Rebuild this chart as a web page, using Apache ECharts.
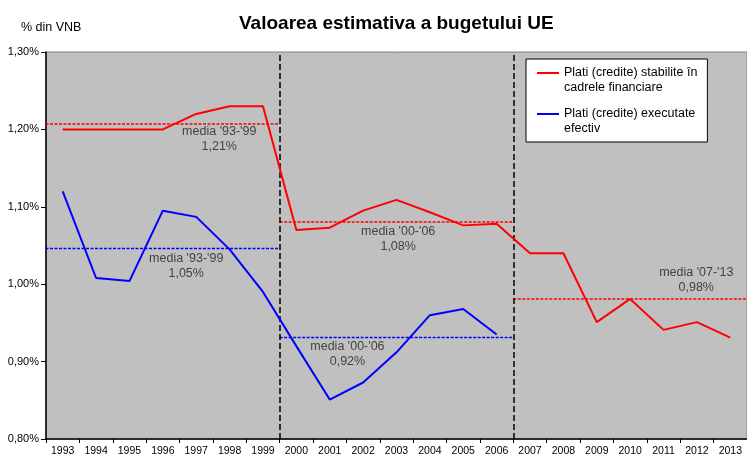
<!DOCTYPE html>
<html>
<head>
	<meta charset="utf-8" />
	<title>Valoarea estimativa a bugetului UE</title>
	<script type="text/javascript" src="https://cdn.jsdelivr.net/npm/echarts@6/dist/echarts.min.js"></script>
	<style>
		html, body {margin:0;padding:0;background:#fff;}
		#chart {width:747px;height:457px;}
	</style>
</head>
<body>
	<div id="chart"></div>

	<script>
		var years = ['1993','1994','1995','1996','1997','1998','1999','2000','2001','2002','2003','2004','2005','2006','2007','2008','2009','2010','2011','2012','2013'];

		// % din VNB
		var platiStabilite = [1.20, 1.20, 1.20, 1.20, 1.22, 1.23, 1.23, 1.07, 1.073, 1.095, 1.109, 1.093, 1.076, 1.078, 1.04, 1.04, 0.951, 0.981, 0.941, 0.951, 0.931];
		var platiExecutate = [1.12, 1.008, 1.004, 1.095, 1.087, 1.045, 0.99, 0.92, 0.851, 0.873, 0.912, 0.96, 0.968, 0.935];

		// medii pe perioade: [start, end] in pozitii de ani
		var perioade = [[0, 7], [7, 14], [14, 21]];
		var mediiStabilite = [1.207, 1.0805, 0.981];
		var mediiExecutate = [1.046, 0.931];
		var etichMediiStabilite = ["media '93-'99\n1,21%", "media '00-'06\n1,08%", "media '07-'13\n0,98%"];
		var etichMediiExecutate = ["media '93-'99\n1,05%", "media '00-'06\n0,92%"];

		var yTicks = [0.8, 0.9, 1.0, 1.1, 1.2, 1.3];

		var RED = '#ff0000', BLUE = '#0000ff';

		var chart = echarts.init(document.getElementById('chart'));

		function avgSeries(values, color) {
			return values.map(function(v, i) {
				var p = perioade[i];
				return {
					type: 'line',
					xAxisIndex: 1,
					symbol: 'none',
					silent: true,
					lineStyle: {color: color, width: 1.5, type: [3, 1.5]},
					data: [[p[0] === 0 ? -0.15 : p[0], v], [p[1], v]],
					z: 3
				};
			});
		}

		// pozitiile etichetelor (coordonate ale graficului)
		var posStabilite = [[5.19, 1.187], [10.55, 1.058], [19.48, 1.006]];
		var posExecutate = [[4.2, 1.024], [9.03, 0.9095]];

		function labelSeries(texts, pos) {
			return {
				type: 'scatter',
				xAxisIndex: 1,
				symbolSize: 0,
				silent: true,
				data: texts.map(function(t, i) { return {value: pos[i], name: t}; }),
				label: {
					show: true,
					position: 'inside',
					formatter: '{b}',
					color: '#222',
					fontSize: 12.5,
					lineHeight: 15,
					align: 'center',
					fontFamily: 'Liberation Sans'
				},
				z: 6
			};
		}

		var series = [
			{
				name: 'Plati (credite) stabilite în\ncadrele financiare',
				type: 'line',
				symbol: 'none',
				data: platiStabilite,
				lineStyle: {color: RED, width: 2},
				itemStyle: {color: RED},
				z: 5
			},
			{
				name: 'Plati (credite) executate\nefectiv',
				type: 'line',
				symbol: 'none',
				data: platiExecutate,
				lineStyle: {color: BLUE, width: 2},
				itemStyle: {color: BLUE},
				z: 5
			},
			{
				// separatoare de perioade
				type: 'line',
				xAxisIndex: 1,
				data: [],
				silent: true,
				markLine: {
					symbol: 'none',
					silent: true,
					label: {show: false},
					lineStyle: {color: '#000', width: 1.5, type: [6, 3]},
					data: [{xAxis: perioade[1][0]}, {xAxis: perioade[2][0]}]
				},
				z: 4
			}
		].concat(avgSeries(mediiStabilite, RED))
		 .concat(avgSeries(mediiExecutate, BLUE))
		 .concat([labelSeries(etichMediiStabilite, posStabilite), labelSeries(etichMediiExecutate, posExecutate)]);

		var option = {
			animation: false,
			textStyle: {fontFamily: 'Liberation Sans'},
			title: [
				{
					text: 'Valoarea estimativa a bugetului UE',
					left: 234,
					top: 9,
					textStyle: {fontSize: 19, fontWeight: 'bold', color: '#000', fontFamily: 'Liberation Sans'}
				},
				{
					text: '% din VNB',
					left: 16,
					top: 16,
					textStyle: {fontSize: 12.5, fontWeight: 'normal', color: '#000', fontFamily: 'Liberation Sans'}
				}
			],
			legend: {
				data: [series[0].name, series[1].name],
				orient: 'vertical',
				icon: 'rect',
				left: 526,
				top: 59,
				padding: [-8.5, 10, 5.5, 11],
				itemGap: -4,
				itemWidth: 22,
				itemHeight: 2,
				backgroundColor: '#fff',
				borderColor: '#000',
				borderWidth: 1,
				borderRadius: 0,
				selectedMode: false,
				// rand gol in fata, ca linia sa stea in dreptul primului rand de text
				formatter: function(name) { return '\n' + name; },
				textStyle: {fontSize: 12.5, color: '#000', lineHeight: 15, fontFamily: 'Liberation Sans'}
			},
			grid: {
				left: 46,
				top: 52,
				right: -1,
				bottom: 17,
				show: true,
				backgroundColor: '#c0c0c0',
				borderColor: '#808080',
				borderWidth: 1
			},
			xAxis: [
				{
					type: 'category',
					data: years,
					boundaryGap: true,
					axisLine: {lineStyle: {color: '#000', width: 1.5}},
					axisTick: {show: true, interval: 0, length: 4, lineStyle: {color: '#000'}},
					axisLabel: {interval: 0, fontSize: 10.5, color: '#000', margin: 7}
				},
				{
					type: 'value',
					min: 0,
					max: years.length,
					show: false
				}
			],
			yAxis: {
				type: 'value',
				min: yTicks[0],
				max: yTicks[yTicks.length - 1],
				interval: 0.1,
				splitLine: {show: false},
				axisLine: {show: true, lineStyle: {color: '#000', width: 1.5}},
				axisTick: {show: true, length: 5, lineStyle: {color: '#000'}},
				axisLabel: {
					fontSize: 11,
					color: '#000',
					margin: 7,
					formatter: function(v) { return v.toFixed(2).replace('.', ',') + '%'; }
				}
			},
			series: series
		};

		chart.setOption(option);
	</script>
</body>
</html>
